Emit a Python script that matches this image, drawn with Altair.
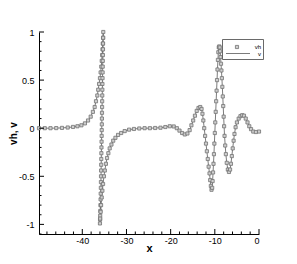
import altair as alt
import pandas as pd

# ---- data ----
xs = [
    -49.8, -48.5, -47.2, -45.9, -44.6, -43.3, -42.1, -41.1,
    -40.2, -39.4, -38.7, -38.1, -37.6, -37.2, -36.9, -36.6, -36.4, -36.2, -36.0,
    -35.85, -35.7, -35.6, -35.5, -35.42, -35.36, -35.3, -35.25,
    -35.28, -35.3, -35.32, -35.34, -35.36, -35.38, -35.4, -35.42, -35.44, -35.46,
    -35.48, -35.5, -35.52, -35.54, -35.56, -35.58, -35.6, -35.62, -35.64, -35.66,
    -35.68, -35.7, -35.72, -35.74, -35.76, -35.78, -35.8, -35.83, -35.86, -35.89,
    -35.92, -35.95, -35.98, -36.0,
    -35.95, -35.85, -35.75, -35.6, -35.45, -35.3, -35.1, -34.9, -34.65, -34.4,
    -34.1, -33.8, -33.4, -33.0, -32.5, -31.9, -31.2, -30.4, -29.4, -28.3, -27.1,
    -25.9, -24.7, -23.5, -22.3, -21.2, -20.2, -19.3,
    -18.6, -18.0, -17.4, -16.8, -16.2, -15.7, -15.3, -14.9, -14.5, -14.1, -13.7,
    -13.3, -13.0, -12.8, -12.6, -12.4, -12.2, -12.0, -11.8, -11.6, -11.4, -11.2,
    -11.05, -10.9, -10.75, -10.6, -10.5, -10.4, -10.3, -10.2, -10.1, -10.0, -9.9,
    -9.8, -9.7, -9.6, -9.5, -9.4, -9.3, -9.2, -9.1, -9.0, -8.9, -8.8, -8.7, -8.6,
    -8.5, -8.4, -8.3, -8.2, -8.1, -8.0, -7.9, -7.8, -7.65, -7.5, -7.3, -7.05, -6.8,
    -6.55, -6.35, -6.15, -5.95, -5.75, -5.55, -5.3, -5.0, -4.6, -4.2, -3.8, -3.4,
    -3.0, -2.6, -2.2, -1.8, -1.3, -0.7, 0.0,
]
ys = [
    0.0, 0.0, 0.0, 0.001, 0.003, 0.007, 0.013, 0.02,
    0.03, 0.05, 0.08, 0.12, 0.17, 0.22, 0.28, 0.34, 0.4, 0.46, 0.52,
    0.58, 0.64, 0.7, 0.76, 0.82, 0.88, 0.94, 1.0,
    0.94, 0.88, 0.82, 0.76, 0.7, 0.64, 0.58, 0.52, 0.46, 0.4,
    0.34, 0.28, 0.22, 0.16, 0.1, 0.04, -0.02, -0.08, -0.14, -0.2,
    -0.26, -0.32, -0.38, -0.44, -0.5, -0.56, -0.62, -0.68, -0.74, -0.8,
    -0.86, -0.91, -0.95, -0.99,
    -0.94, -0.87, -0.8, -0.72, -0.65, -0.58, -0.5, -0.44, -0.37, -0.31,
    -0.26, -0.21, -0.17, -0.13, -0.1, -0.07, -0.05, -0.03, -0.015, -0.008, -0.003,
    0.0, 0.0, 0.002, 0.005, 0.012, 0.02, 0.018,
    0.0, -0.025, -0.05, -0.065, -0.055, -0.02, 0.03, 0.08, 0.13, 0.18, 0.21,
    0.22, 0.2, 0.15, 0.08, 0.0, -0.08, -0.16, -0.24, -0.32, -0.4, -0.47,
    -0.54, -0.6, -0.64, -0.62, -0.55, -0.46, -0.37, -0.27, -0.16, -0.05, 0.06,
    0.17, 0.28, 0.39, 0.5, 0.61, 0.71, 0.79, 0.84, 0.85, 0.84, 0.8, 0.74, 0.67,
    0.6, 0.52, 0.43, 0.33, 0.23, 0.12, 0.02, -0.08, -0.18, -0.27, -0.36, -0.43, -0.455,
    -0.43, -0.37, -0.29, -0.21, -0.13, -0.06, 0.01, 0.06, 0.1, 0.125, 0.135, 0.13,
    0.1, 0.06, 0.02, -0.01, -0.035, -0.04, -0.035,
]

x_major = [-40, -30, -20, -10, 0]
x_minor = [-48, -46, -44, -42, -38, -36, -34, -32, -28, -26, -24, -22,
           -18, -16, -14, -12, -8, -6, -4, -2]
y_major = [-1, -0.5, 0, 0.5, 1]
y_minor = [-1.1, -0.9, -0.8, -0.7, -0.6, -0.4, -0.3, -0.2, -0.1,
           0.1, 0.2, 0.3, 0.4, 0.6, 0.7, 0.8, 0.9]

legend_labels = ["vh", "v"]

W, H = 220, 202
XDOM = [-49.8, 0]
YDOM = [-1.1, 1]

df = pd.DataFrame({"x": xs, "y": ys, "i": list(range(len(xs)))})

xscale = alt.Scale(domain=XDOM, nice=False, zero=False)
yscale = alt.Scale(domain=YDOM, nice=False, zero=False)

font = "Liberation Sans"

xaxis = alt.Axis(values=x_major, tickSize=0, grid=False, labelExpr="toString(datum.value)",
                 labelFontSize=9, labelPadding=2, title="x", titleFontSize=11,
                 titleFontWeight="bold", titleY=17, titleBaseline="alphabetic",
                 domainColor="#000", labelColor="#000",
                 titleColor="#000", labelFont=font, titleFont=font)
yaxis = alt.Axis(values=y_major, tickSize=0, grid=False, labelExpr="toString(datum.value)",
                 labelFontSize=9, labelPadding=5, title="vh, v", titleFontSize=10,
                 titleFontWeight="bold", titleX=-26, titleY=H / 2, titleAlign="center",
                 titleBaseline="middle", titleAngle=-90, domainColor="#000", labelColor="#000",
                 titleColor="#000", labelFont=font, titleFont=font)

line = alt.Chart(df).mark_line(color="#5a5a5a", strokeWidth=0.8).encode(
    x=alt.X("x:Q", scale=xscale, axis=xaxis),
    y=alt.Y("y:Q", scale=yscale, axis=yaxis),
    order="i:Q",
)
pts = alt.Chart(df).mark_point(shape="square", filled=True, fill="#cfcfcf", stroke="#727272",
                               strokeWidth=0.8, size=10, opacity=1).encode(
    x=alt.X("x:Q", scale=xscale),
    y=alt.Y("y:Q", scale=yscale),
)

def xticks(vals, length):
    return alt.Chart(pd.DataFrame({"t": vals})).mark_rule(color="#000", strokeWidth=1).encode(
        x=alt.X("t:Q", scale=xscale), y=alt.value(H), y2=alt.value(H - length))

def yticks(vals, length):
    return alt.Chart(pd.DataFrame({"t": vals})).mark_rule(color="#000", strokeWidth=1).encode(
        y=alt.Y("t:Q", scale=yscale), x=alt.value(0), x2=alt.value(length))

leg_df = pd.DataFrame({"label": legend_labels})
leg_box = alt.Chart(leg_df.head(1)).mark_rect(fill="white", stroke="#444", strokeWidth=0.8).encode(
    x=alt.value(183.5), x2=alt.value(224.5), y=alt.value(7.5), y2=alt.value(27.5))
leg_sym = alt.Chart(leg_df.head(1)).mark_point(shape="square", filled=True, fill="#cfcfcf",
                                               stroke="#727272", strokeWidth=0.8, size=10, opacity=1).encode(
    x=alt.value(198), y=alt.value(15))
leg_line = alt.Chart(leg_df.head(1)).mark_rule(color="#5a5a5a", strokeWidth=0.8).encode(
    x=alt.value(187), x2=alt.value(211), y=alt.value(21.5))
leg_txt1 = alt.Chart(leg_df.iloc[[0]]).mark_text(align="right", baseline="middle", fontSize=6,
                                                 font=font, color="#000").encode(
    x=alt.value(222), y=alt.value(15), text="label:N")
leg_txt2 = alt.Chart(leg_df.iloc[[1]]).mark_text(align="right", baseline="middle", fontSize=6,
                                                 font=font, color="#000").encode(
    x=alt.value(222), y=alt.value(22), text="label:N")

chart = alt.layer(
    line, pts,
    xticks(x_major, 5), xticks(x_minor, 2.5),
    yticks(y_major, 5), yticks(y_minor, 2.5),
    leg_box, leg_sym, leg_line, leg_txt1, leg_txt2,
).properties(
    width=W, height=H,
    autosize=alt.AutoSizeParams(type="none"),
    padding={"left": 31, "top": 24, "right": 30, "bottom": 22},
    background="white",
).configure_view(stroke=None)

chart.save("out.html", embed_options={"renderer": "svg", "actions": False})
